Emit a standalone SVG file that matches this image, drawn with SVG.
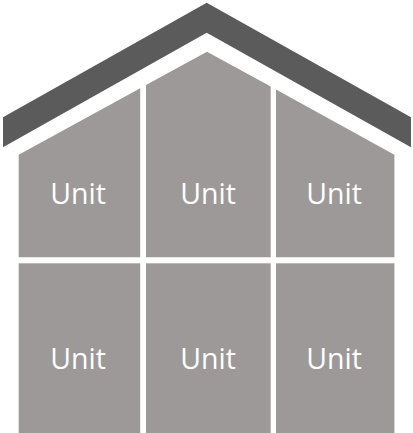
<svg xmlns="http://www.w3.org/2000/svg" width="413" height="433" viewBox="0 0 413 433">
  <style>
    .unit { fill: #9d9999; }
    .roof { fill: #5b5b5b; }
    .label { fill: #ffffff; font-family: "Open Sans", "Noto Sans", "DejaVu Sans", sans-serif; font-size: 28.5px; text-anchor: middle; }
  </style>
  <rect x="0" y="0" width="413" height="433" fill="#ffffff"/>
  <g id="roof">
    <polygon class="roof" points="206.7,2.7 411,117.3 411,147.3 206.7,32.7 3,147.3 3,117.3"/>
  </g>
  <g id="connectors"></g>
  <g id="unit-top-left">
    <polygon class="unit" points="18.7,154.8 140.2,88.3 140.2,257.3 18.7,257.3"/>
    <text class="label" x="78" y="204">Unit</text>
  </g>
  <g id="unit-top-middle">
    <polygon class="unit" points="146,85 207,51.8 270.7,86.6 270.7,257.3 146,257.3"/>
    <text class="label" x="208" y="204">Unit</text>
  </g>
  <g id="unit-top-right">
    <polygon class="unit" points="276,89.5 394.4,154.8 394.4,257.3 276,257.3"/>
    <text class="label" x="334" y="204">Unit</text>
  </g>
  <g id="unit-bottom-left">
    <rect class="unit" x="18.7" y="263.3" width="121.5" height="170"/>
    <text class="label" x="78" y="369">Unit</text>
  </g>
  <g id="unit-bottom-middle">
    <rect class="unit" x="146" y="263.3" width="124.7" height="170"/>
    <text class="label" x="208" y="369">Unit</text>
  </g>
  <g id="unit-bottom-right">
    <rect class="unit" x="276" y="263.3" width="118.4" height="170"/>
    <text class="label" x="334" y="369">Unit</text>
  </g>
</svg>
